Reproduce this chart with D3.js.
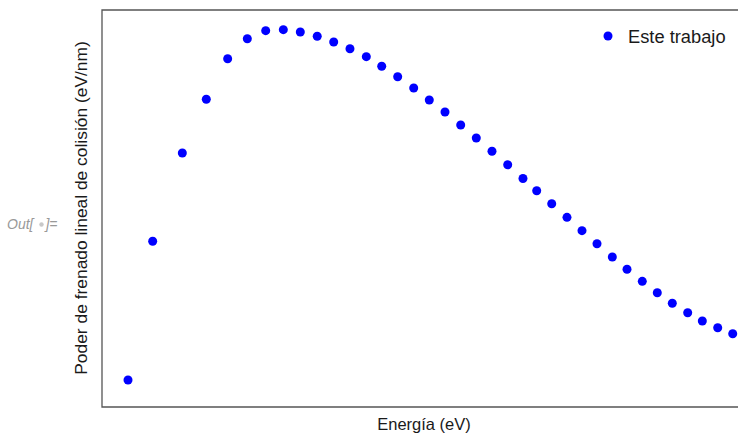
<!DOCTYPE html>
<html>
<head>
<meta charset="utf-8">
<script src="https://cdn.jsdelivr.net/npm/d3@7"></script>
<style>
  body { margin: 0; background: #fff; }
  svg { display: block; }
</style>
</head>
<body>
<script>
// energy (arbitrary units, no ticks shown in the original)
var energy = [4.09, 7.97, 12.63, 16.40, 19.76, 22.85, 25.74, 28.51, 31.18, 33.84,
              36.43, 38.99, 41.56, 43.98, 46.49, 49.01, 51.46, 53.93, 56.40, 58.85,
              61.32, 63.79, 66.19, 68.35, 70.71, 73.11, 75.47, 77.83, 80.24, 82.55,
              84.95, 87.31, 89.67, 92.09, 94.39, 96.81, 99.17];
// stopping power (arbitrary units)
var stopping = [6.80, 41.74, 63.98, 77.51, 87.73, 92.77, 94.79, 95.04, 94.46, 93.40,
                91.94, 90.25, 88.24, 85.82, 83.20, 80.35, 77.33, 74.31, 71.03, 67.76,
                64.41, 61.01, 57.56, 54.48, 51.21, 47.78, 44.41, 41.13, 37.78, 34.69,
                31.66, 28.79, 26.12, 23.75, 21.66, 19.97, 18.46];
var seriesName = "Este trabajo";
var xTitle = "Energía (eV)";
var yTitle = "Poder de frenado lineal de colisión (eV/nm)";

var width = 738;
var height = 434;
var plotLeft = 102, plotTop = 10, plotRight = 738, plotBottom = 407;
var font = "'Liberation Sans', Arial, sans-serif";

var svg = d3.select("body").append("svg")
            .attr("width", width)
            .attr("height", height);

var xScale = d3.scaleLinear().domain([0, 100]).range([plotLeft, plotRight]);
var yScale = d3.scaleLinear().domain([0, 100]).range([plotBottom, plotTop]);

var data = energy.map(function(e, i) { return {x: e, y: stopping[i]}; });

// frame (right edge runs off the picture)
svg.append("path")
   .attr("d", "M" + (width + 2) + "," + plotTop + "H" + plotLeft + "V" + plotBottom + "H" + (width + 2))
   .attr("fill", "none")
   .attr("stroke", "#555")
   .attr("stroke-width", 1.3);

// points
svg.selectAll("circle.pt")
   .data(data)
   .enter()
   .append("circle")
   .attr("class", "pt")
   .attr("cx", function(d) { return xScale(d.x); })
   .attr("cy", function(d) { return yScale(d.y); })
   .attr("r", 4.5)
   .attr("fill", "#0000ff");

// legend
svg.append("circle")
   .attr("cx", 608).attr("cy", 36)
   .attr("r", 4.5)
   .attr("fill", "#0000ff");
svg.append("text")
   .attr("x", 628).attr("y", 42.5)
   .attr("font-family", font)
   .attr("font-size", 18.3)
   .attr("fill", "#1a1a1a")
   .text(seriesName);

// axis titles
svg.append("text")
   .attr("x", 424).attr("y", 429.5)
   .attr("text-anchor", "middle")
   .attr("font-family", font)
   .attr("font-size", 16.5)
   .attr("fill", "#1a1a1a")
   .text(xTitle);

svg.append("text")
   .attr("transform", "translate(87,208) rotate(-90)")
   .attr("text-anchor", "middle")
   .attr("font-family", font)
   .attr("font-size", 17.4)
   .attr("fill", "#1a1a1a")
   .text(yTitle);

// notebook output label
var out = svg.append("text")
   .attr("x", 7).attr("y", 229)
   .attr("font-family", font)
   .attr("font-size", 14)
   .attr("font-style", "italic")
   .attr("fill", "#999");
out.append("tspan").text("Out[");
out.append("tspan").attr("dx", 12).text("]=");
svg.append("circle")
   .attr("cx", 41.5).attr("cy", 224.5)
   .attr("r", 2.2)
   .attr("fill", "#c8c8c8");
</script>
</body>
</html>
